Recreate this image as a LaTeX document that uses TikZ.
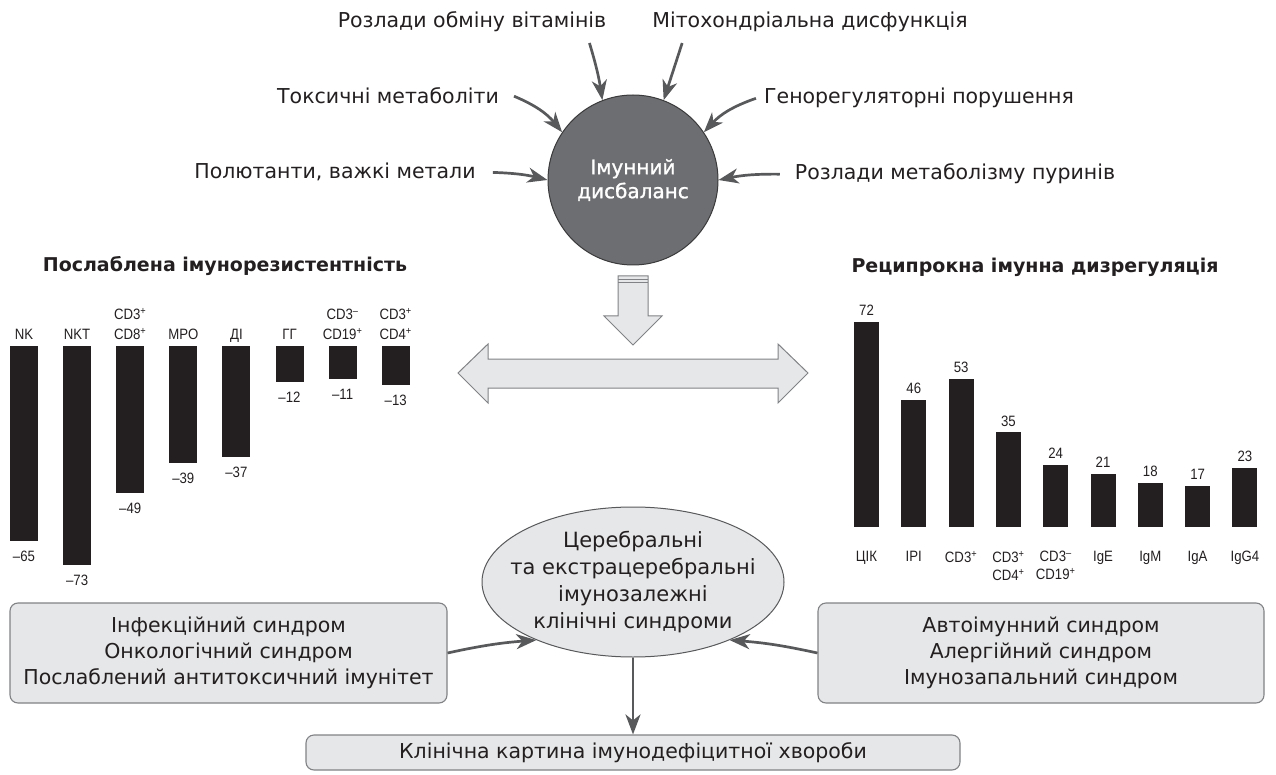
\documentclass[tikz,border=0pt]{standalone}
\usepackage{fontspec}
\setmainfont{DejaVu Sans}
\newfontfamily\labfont[FakeStretch=0.88]{Liberation Sans}
\newfontfamily\circfont[FakeBold=1.2]{DejaVu Sans}
\usetikzlibrary{arrows.meta,shapes.geometric,calc}
\definecolor{arrgray}{HTML}{58595B}
\definecolor{circfill}{HTML}{6D6E71}
\definecolor{circdraw}{HTML}{3A3A3C}
\definecolor{boxfill}{HTML}{E6E7E8}
\definecolor{boxdraw}{HTML}{808285}
\definecolor{elldraw}{HTML}{58595B}
\definecolor{barblack}{HTML}{231F20}
\definecolor{txt}{HTML}{231F20}
\begin{document}
\begin{tikzpicture}[x=1pt,y=-1pt,
  toplab/.style={inner sep=0pt, anchor=base, text=txt, font=\fontsize{20.5}{24}\selectfont},
  charttitle/.style={inner sep=0pt, anchor=base, text=txt, font=\bfseries\fontsize{19}{23}\selectfont},
  arr/.style={draw=arrgray, line width=2.7pt, -{Stealth[length=20pt,width=15pt,inset=6pt]}},
  hollow/.style={fill=boxfill, draw=boxdraw, line width=1pt, line join=miter},
  bar/.style={fill=barblack},
  catl/.style={inner sep=0pt, align=center, text=txt, text depth=0pt, font=\labfont\fontsize{15}{20}\selectfont},
  catr/.style={inner sep=0pt, align=center, text=txt, font=\labfont\fontsize{15}{18}\selectfont},
  valu/.style={inner sep=0pt, text=txt, font=\labfont\fontsize{15}{17}\selectfont},
  sbox/.style={draw=boxdraw, fill=boxfill, rounded corners=8pt, line width=1.1pt, inner sep=0pt, align=center, text=txt, font=\fontsize{20.5}{26}\selectfont}
]
\useasboundingbox (0,0) rectangle (1276,775);

% central circle
\node[circle, fill=circfill, draw=circdraw, line width=1pt, minimum size=170pt, inner sep=0pt,
      text=white, align=center, font=\circfont\fontsize{20}{24}\selectfont] (circ) at (633,180) {Імунний\\дисбаланс};

% top labels
\node[toplab] (vit) at (472,28) {Розлади обміну вітамінів};
\node[toplab] (mito) at (810,28) {Мітохондріальна дисфункція};
\node[toplab] (tox) at (388,104) {Токсичні метаболіти};
\node[toplab] (gen) at (919,104) {Генорегуляторні порушення};
\node[toplab] (pol) at (335,179) {Полютанти, важкі метали};
\node[toplab] (pur) at (955,180) {Розлади метаболізму пуринів};

% arrows into circle
\draw[arr] ($(vit.base east)+(-17,15)$) to[bend left=4] (circ.111);
\draw[arr] ($(mito.base west)+(30,15)$) -- (circ.69);
\draw[arr] ($(tox.east)+(15,0)$) to[bend left=14] (circ.146);
\draw[arr] ($(gen.west)+(-8,0)$) to[bend right=14] (circ.34);
\draw[arr] ($(pol.east)+(17,0)$) to[bend left=6] (circ.180);
\draw[arr] ($(pur.west)+(-15,0)$) to[bend right=6] (circ.0);

% hollow arrows
\filldraw[hollow] (618,276) -- (648,276) -- (648,316) -- (662,316) -- (633,345) -- (604,316) -- (618,316) -- cycle;
\draw[draw=boxdraw, line width=0.9pt] (618,279) -- (648,279) (618,282) -- (648,282);
\filldraw[hollow] (458,373) -- (488,344) -- (488,359) -- (778,359) -- (778,344) -- (808,373)
   -- (778,403) -- (778,388) -- (488,388) -- (488,403) -- cycle;

% chart titles
\node[charttitle] (ltitle) at (225,272) {Послаблена імунорезистентність};
\node[charttitle] (rtitle) at (1035,273) {Реципрокна імунна дизрегуляція};

% left bars
\foreach \i/\v/\lab [evaluate=\i as \xa using 10+53.1*\i] in
  {0/65/NK, 1/73/NKT, 2/49/{CD3\textsuperscript{+}\\CD8\textsuperscript{+}}, 3/39/MPO, 4/37/ДІ, 5/12/ГГ,
   6/11/{CD3\textsuperscript{–}\\CD19\textsuperscript{+}}, 7/13/{CD3\textsuperscript{+}\\CD4\textsuperscript{+}}} {
  \fill[bar] (\xa,346) rectangle ++(28,3*\v);
  \node[catl, anchor=south] (lc\i) at (\xa+14,340) {\lab};
  \node[valu, anchor=north] (lv\i) at (\xa+14,346+3*\v+10) {–\v};
}

% right bars
\foreach \i/\v/\lab [evaluate=\i as \xa using 854+47.3*\i, evaluate=\v as \h using 2.98*\v-9.7] in
  {0/72/ЦІК, 1/46/IPI, 2/53/CD3\textsuperscript{+}, 3/35/{CD3\textsuperscript{+}\\CD4\textsuperscript{+}},
   4/24/{CD3\textsuperscript{–}\\CD19\textsuperscript{+}}, 5/21/IgE, 6/18/IgM, 7/17/IgA, 8/23/IgG4} {
  \fill[bar] (\xa,527) rectangle ++(25,-\h);
  \node[valu, anchor=south, text depth=0pt] (rv\i) at (\xa+12.5,527-\h-6) {\v};
  \node[catr, anchor=north] (rc\i) at (\xa+12.5,551) {\lab};
}

% ellipse
\node[ellipse, draw=elldraw, fill=boxfill, line width=1pt, minimum width=302pt, minimum height=150pt, inner sep=0pt] (ell) at (633,582) {};
\node[align=center, inner sep=0pt, text=txt, font=\fontsize{21}{27}\selectfont] (elltxt) at (633,582)
  {Церебральні\\та екстрацеребральні\\імунозалежні\\клінічні синдроми};

% boxes
\node[sbox, minimum width=437pt, minimum height=100pt] (lbox) at (228.5,653)
  {Інфекційний синдром\\Онкологічний синдром\\Послаблений антитоксичний імунітет};
\node[sbox, minimum width=446pt, minimum height=100pt] (rbox) at (1041,653)
  {Автоімунний синдром\\Алергійний синдром\\Імунозапальний синдром};
\node[sbox, minimum width=654pt, minimum height=35pt] (bbox) at (633,752.5)
  {Клінічна картина імунодефіцитної хвороби};

% bottom arrows
\draw[arr] (lbox.east) to[bend left=4] (ell.211);
\draw[arr] (rbox.west) to[bend right=4] (ell.329);
\draw[arr] (ell.south) -- (bbox.north);
\end{tikzpicture}
\end{document}
